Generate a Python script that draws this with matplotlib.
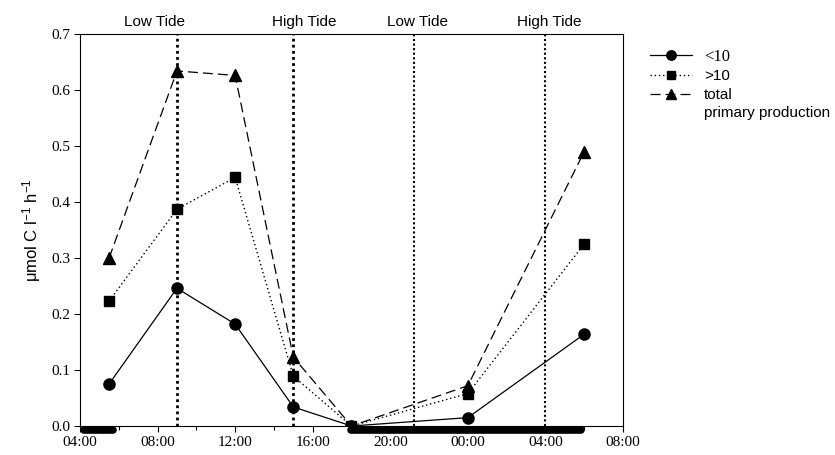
import matplotlib
matplotlib.use("Agg")
import matplotlib.pyplot as plt
from matplotlib.lines import Line2D
from matplotlib.ticker import MultipleLocator, FuncFormatter

plt.rcParams["mathtext.fontset"] = "custom"
plt.rcParams["mathtext.rm"] = "Liberation Sans"
plt.rcParams["mathtext.it"] = "Liberation Sans:italic"

# Sampling times, hours counted from midnight of day 1 (24+ = next day)
hours = [5.5, 9.0, 12.0, 15.0, 18.0, 24.0, 30.0]
small = [0.075, 0.246, 0.182, 0.034, 0.0, 0.015, 0.164]   # <10
large = [0.223, 0.387, 0.444, 0.089, 0.0, 0.058, 0.325]   # >10
total = [0.300, 0.634, 0.626, 0.123, 0.0, 0.072, 0.490]   # total primary production

tide_times = [9.0, 15.0, 21.2, 28.0]
tide_names = ["Low Tide", "High Tide", "Low Tide", "High Tide"]
tide_label_x = [7.85, 15.55, 21.4, 28.2]

dark_periods = [(4.2, 5.7), (18.0, 29.85)]

fig = plt.figure(figsize=(8.35, 4.55), dpi=100)
ax = fig.add_axes([0.0958, 0.0637, 0.6503, 0.8616])

# tide markers
for t, lw in zip(tide_times, [2.0, 2.0, 1.5, 1.5]):
    ax.plot([t, t], [0, 0.7], color="black", lw=lw, ls=(0, (1, 1.2)), zorder=1)

l1, = ax.plot(hours, small, color="black", lw=0.9, marker="o", ms=8, zorder=3)
l2, = ax.plot(hours, large, color="black", lw=1.0, ls=(0, (1, 2)), marker="s", ms=7,
              zorder=3)
l3, = ax.plot(hours, total, color="black", lw=0.9, ls=(0, (8, 4)), marker="^", ms=8,
              zorder=3)

# periods of darkness
for a, b in dark_periods:
    ax.plot([a, b], [-0.008, -0.008], color="black", lw=5.5, solid_capstyle="round",
            clip_on=False, zorder=4)

ax.set_xlim(4, 32)
ax.set_ylim(0, 0.7)
ax.xaxis.set_major_locator(MultipleLocator(4))
ax.xaxis.set_minor_locator(MultipleLocator(2))
ax.xaxis.set_major_formatter(FuncFormatter(lambda v, p: f"{int(v) % 24:02d}:00"))
ax.yaxis.set_major_locator(MultipleLocator(0.1))
ax.yaxis.set_major_formatter(FuncFormatter(lambda v, p: f"{v:.1f}"))
ax.tick_params(axis="both", which="major", direction="out", length=4, width=0.8,
               labelsize=11, pad=3)
ax.tick_params(axis="x", which="minor", direction="out", length=3, width=0.8)
for lab in ax.get_xticklabels() + ax.get_yticklabels():
    lab.set_fontfamily("Liberation Serif")
for s in ax.spines.values():
    s.set_linewidth(0.8)

ax.set_ylabel(r"μmol C l$^{-1}$ h$^{-1}$", fontsize=12, family="Liberation Sans",
              labelpad=6)

for x, name in zip(tide_label_x, tide_names):
    ax.text(x, 1.013, name, transform=ax.get_xaxis_transform(), ha="center",
            va="bottom", fontsize=11, family="Liberation Sans")

blank = Line2D([], [], color="none")
leg = fig.legend([l1, l2, l3, blank], ["<10", ">10", "total", "primary production"],
                 loc="upper left", bbox_to_anchor=(0.778, 0.893), frameon=False,
                 prop={"family": "Liberation Sans", "size": 11}, handlelength=2.8,
                 handletextpad=0.75, labelspacing=0.3, borderaxespad=0,
                 borderpad=0, markerscale=0.85)
leg.get_texts()[0].set_fontfamily("Liberation Serif")
leg.get_texts()[0].set_fontsize(12)

fig.savefig("out.png", dpi=100)
